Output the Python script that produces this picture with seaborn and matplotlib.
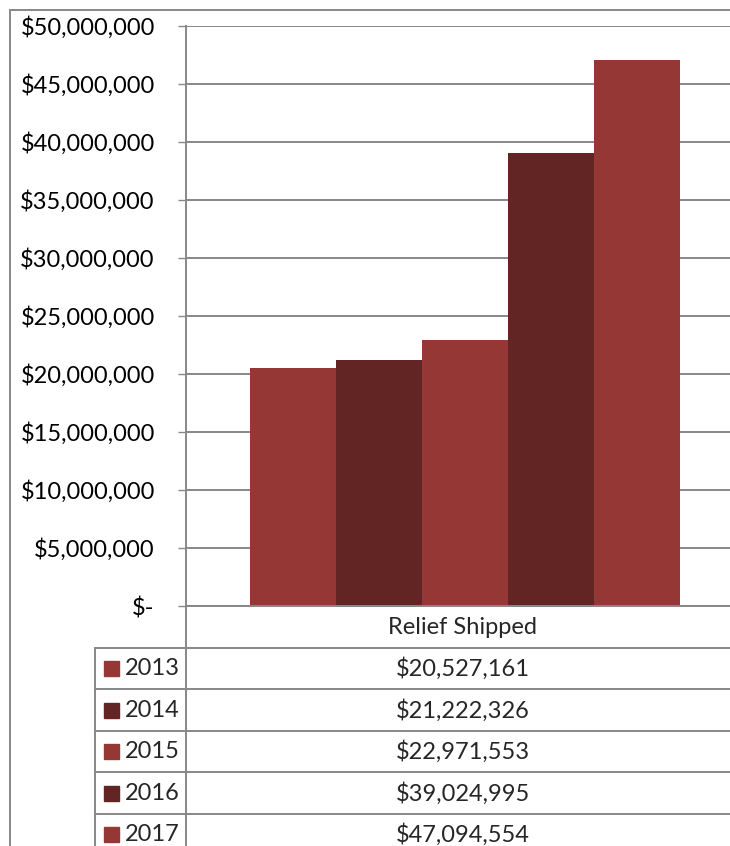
import pandas as pd
import matplotlib.pyplot as plt
import matplotlib.ticker as mticker
import seaborn as sns

# data
category = ['Relief Shipped']
years = ['2013', '2014', '2015', '2016', '2017']
values = [20527161, 21222326, 22971553, 39024995, 47094554]
colors = ['#953735', '#632523', '#953735', '#632523', '#953735']

W, H = 730, 846
GRAY = '#878787'
FS = 17

sns.set_theme(style='white')
plt.rcParams['font.family'] = ['Lato', 'DejaVu Sans']

fig = plt.figure(figsize=(W / 100, H / 100), dpi=100)


def px(x0, y0, x1, y1):
    # pixel box (top-left origin) -> figure fraction
    return [x0 / W, 1 - y1 / H, (x1 - x0) / W, (y1 - y0) / H]


ax = fig.add_axes(px(186, 26, 744, 606))
df = pd.DataFrame({'category': category * len(years), 'year': years, 'value': values})
sns.barplot(data=df, x='category', y='value', hue='year', palette=colors,
            width=0.77, gap=0, saturation=1, errorbar=None, legend=False,
            linewidth=0, edgecolor='none', ax=ax)

ax.set_xlim(-0.5, 0.5)
ax.set_ylim(0, 50_000_000)
ax.set_yticks(range(0, 50_000_001, 5_000_000))
ax.yaxis.set_major_formatter(mticker.FuncFormatter(
    lambda v, p: '$-' if v == 0 else f'${v:,.0f}'))
ax.grid(axis='y', color=GRAY, lw=1.4)
ax.set_axisbelow(True)
ax.set_xlabel('')
ax.set_ylabel('')
ax.set_xticks([])
for s in ['top', 'right']:
    ax.spines[s].set_visible(False)
for s in ['left', 'bottom']:
    ax.spines[s].set_color(GRAY)
    ax.spines[s].set_linewidth(1.4)
ax.tick_params(axis='y', left=True, length=5.5, width=1, color=GRAY,
               pad=17, labelsize=FS, labelcolor='black')

# data table + chart border drawn on an overlay in pixel units
tax = fig.add_axes([0, 0, 1, 1], zorder=-1)
tax.set_xlim(0, W)
tax.set_ylim(H, 0)
tax.axis('off')

lk = dict(color=GRAY, lw=1.4)
tax.plot([10, W], [10, 10], **lk)
tax.plot([10, 10], [10, H], **lk)
tax.plot([186, 186], [606, H], **lk)
tax.plot([95, 95], [648, H], **lk)

tax.text(463, 627, category[0], ha='center', va='center', fontsize=FS)
row_h = 41.5
for i, (yr, v, c) in enumerate(zip(years, values, colors)):
    top = 648 + i * row_h
    tax.plot([95, W], [top, top], **lk)
    mid = top + row_h / 2
    tax.add_patch(plt.Rectangle((104, mid - 7.5), 15, 15, color=c))
    tax.text(125, mid, yr, ha='left', va='center', fontsize=FS)
    tax.text(463, mid, f'${v:,.0f}', ha='center', va='center', fontsize=FS)

fig.savefig('out.png', dpi=100)
